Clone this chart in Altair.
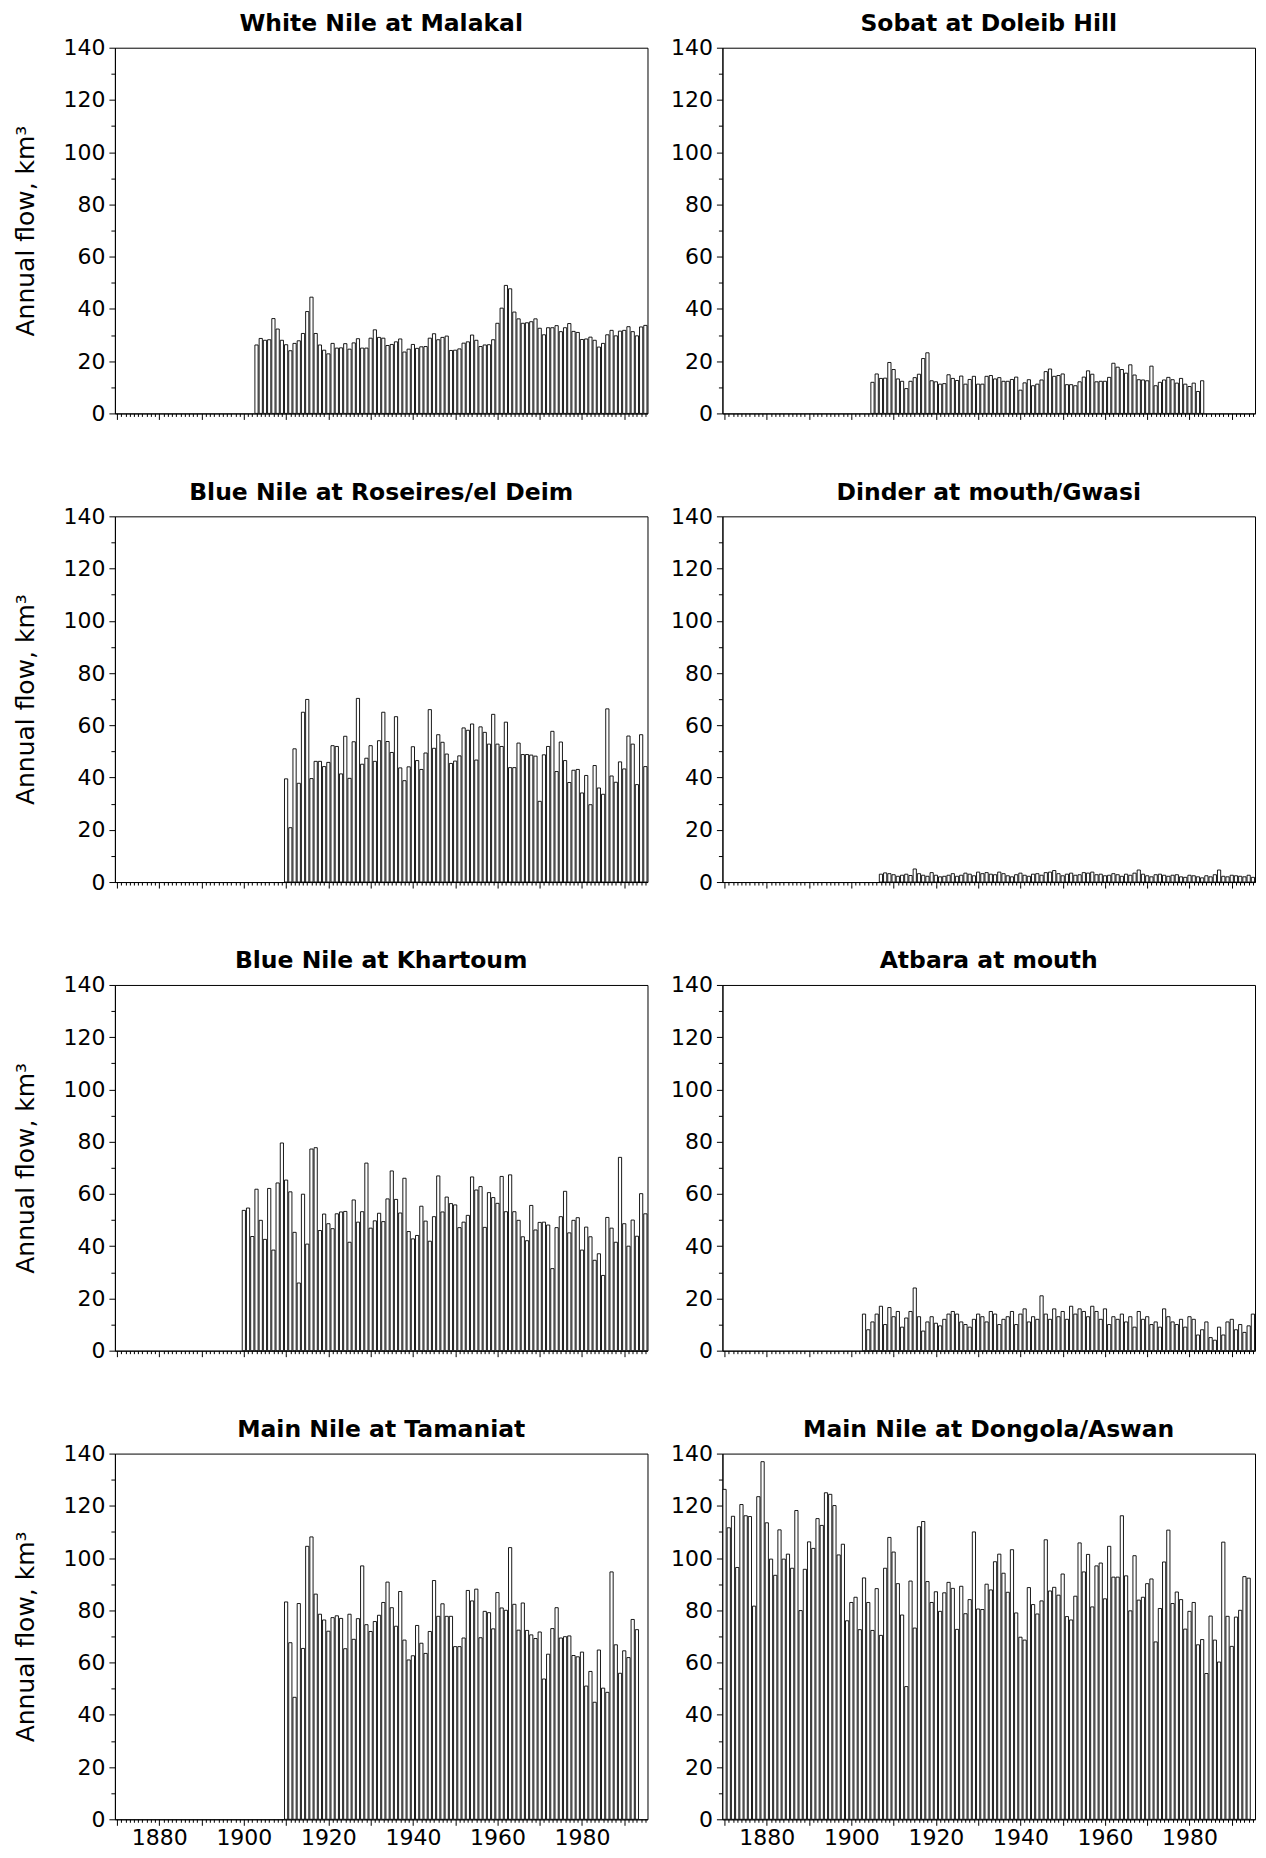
import altair as alt
import pandas as pd

FONT = "DejaVu Sans"

# ---------------- data (annual flow, km3) ----------------
malakal_start = 1903
malakal = [26.2,28.7,28.0,28.2,36.3,32.3,28.0,26.3,24.0,26.8,
           27.8,30.6,39.0,44.5,30.6,26.2,24.2,22.8,26.8,25.0,
           25.1,26.7,24.6,27.0,28.6,25.0,25.0,28.8,32.0,29.1,
           28.8,26.0,26.4,27.4,28.5,23.5,24.6,26.4,24.9,25.5,
           25.6,28.8,30.5,28.2,29.1,29.6,24.1,24.2,24.7,26.9,
           27.4,30.0,28.0,25.6,26.2,26.3,28.2,34.5,40.3,49.0,
           47.7,38.8,36.2,34.5,34.7,35.1,36.2,32.6,30.1,32.8,
           32.8,33.6,31.3,32.8,34.4,31.4,31.0,28.3,28.5,29.2,
           28.0,25.4,26.8,30.1,31.8,29.7,31.5,31.8,33.2,31.3,
           29.7,33.1,33.7]

sobat_start = 1905
sobat = [11.9,15.1,13.4,13.5,19.5,16.8,13.2,12.3,9.5,12.3,
         13.7,15.0,21.0,23.2,12.5,12.1,11.2,11.4,14.8,13.4,
         12.6,14.3,11.2,13.0,14.2,11.2,11.2,14.2,14.5,13.2,
         13.7,12.3,12.3,13.0,13.9,8.9,11.7,12.9,10.6,11.2,
         12.8,16.0,17.0,14.2,14.5,15.1,11.0,11.0,10.6,12.1,
         13.9,16.3,15.0,12.1,12.3,12.3,13.8,19.2,17.7,16.8,
         15.4,18.6,14.7,12.9,12.8,12.5,18.1,10.6,11.9,12.8,
         13.8,12.9,11.6,13.4,11.2,10.3,11.6,8.4,12.5]

roseires_start = 1910
roseires = [39.5,20.8,51.0,37.8,65.0,69.9,39.6,46.2,46.2,44.2,
            45.8,52.2,51.9,41.4,55.8,39.7,53.7,70.3,45.1,47.4,
            52.2,46.2,54.1,65.0,53.8,49.6,63.3,43.7,38.8,44.1,
            51.8,46.5,43.1,49.4,66.0,51.2,56.4,53.5,49.0,45.4,
            46.3,48.3,59.0,58.1,60.5,46.7,59.4,57.3,52.8,64.2,
            52.8,51.9,61.2,43.8,43.8,53.2,48.8,48.8,48.6,48.2,
            30.9,48.7,51.9,57.7,42.3,53.6,46.5,38.1,42.8,43.1,
            34.1,40.8,29.6,44.6,36.0,33.6,66.3,40.6,38.2,46.0,
            43.3,55.9,52.8,37.3,56.4,44.2]

dinder_start = 1907
dinder = [3.0,3.5,3.2,2.8,2.2,2.6,3.0,2.5,5.0,3.2,
          2.6,2.2,3.6,2.6,2.0,2.2,2.6,3.2,2.2,2.6,
          3.4,3.0,2.4,3.8,3.2,3.6,3.0,2.8,3.8,3.2,
          2.4,2.0,2.8,3.4,2.6,2.2,3.0,3.2,2.6,3.6,
          3.8,4.4,3.2,2.4,3.0,3.4,2.6,2.8,3.6,3.4,
          3.8,2.8,3.0,2.4,2.6,3.2,2.8,2.2,3.0,2.6,
          3.4,4.6,3.0,2.4,2.0,2.8,3.0,2.6,2.2,2.6,
          2.8,2.0,1.8,2.6,2.4,2.0,1.6,2.4,2.0,2.8,
          4.6,2.2,2.0,2.6,2.4,2.2,2.0,2.6,1.8]

khartoum_start = 1900
khartoum = [53.7,54.6,43.7,61.8,49.9,42.6,62.1,38.5,64.2,79.5,
            65.3,60.8,45.3,25.9,59.9,40.8,77.2,77.7,46.0,52.3,
            48.6,46.7,52.4,53.1,53.3,41.5,57.7,49.2,53.2,71.8,
            46.9,49.7,52.6,49.4,58.1,68.8,57.9,52.7,66.0,45.6,
            42.8,44.1,55.3,49.6,41.9,51.3,66.9,53.1,58.8,56.3,
            55.8,47.1,49.2,51.8,66.5,61.5,62.8,47.2,60.5,58.6,
            56.4,66.7,53.2,67.3,53.2,49.9,43.6,42.1,55.6,46.2,
            49.1,49.2,48.1,31.4,47.1,51.3,61.0,45.1,49.9,50.9,
            38.5,47.3,43.6,34.6,37.1,28.8,51.0,46.9,41.5,74.0,
            48.6,40.0,50.0,43.8,60.1,52.4]

atbara_start = 1903
atbara = [14.0,8.0,11.0,14.0,17.0,10.0,16.5,13.0,15.0,9.0,
          12.5,15.0,24.0,13.0,7.5,11.0,13.0,10.5,9.5,12.0,
          14.0,15.0,14.0,11.0,10.0,9.0,12.0,14.0,13.0,11.0,
          15.0,14.0,10.0,12.0,13.0,15.0,10.0,14.0,16.0,11.0,
          13.0,12.0,21.0,14.0,12.0,16.0,13.0,15.0,12.0,17.0,
          14.0,16.0,15.0,13.0,17.0,15.0,12.0,16.0,10.0,13.0,
          12.0,14.0,11.0,13.0,9.0,15.0,12.0,13.0,10.0,11.0,
          9.0,16.0,13.0,11.0,10.0,12.0,9.0,13.0,12.0,6.0,
          8.0,11.0,5.0,4.0,9.0,6.0,11.0,12.0,8.0,10.0,
          7.0,9.5,14.0]

tamaniat_start = 1910
tamaniat = [83.2,67.6,46.7,82.6,65.4,104.5,108.1,86.2,78.5,76.3,
            72.0,77.2,77.9,76.9,65.3,78.5,68.9,76.8,97.0,74.5,
            71.9,75.7,78.1,83.0,90.8,81.0,73.9,87.2,68.6,61.0,
            62.6,74.2,67.4,63.5,71.9,91.4,77.7,82.5,77.7,77.7,
            66.1,66.1,69.4,87.6,83.6,88.1,69.5,79.6,79.1,72.9,
            86.8,80.9,80.0,104.0,82.3,72.4,82.8,72.3,70.6,69.2,
            71.7,53.7,63.2,73.0,81.0,69.4,69.9,70.2,62.7,62.2,
            64.0,51.0,56.6,44.8,64.8,50.2,48.6,94.7,66.8,55.9,
            64.5,61.9,76.5,72.6]

dongola_start = 1870
dongola = [126.3,111.6,116.0,96.4,120.5,116.2,115.9,81.6,123.5,136.9,
           113.5,99.6,93.4,110.8,99.6,101.5,96.1,118.2,79.9,95.7,
           106.2,103.7,115.1,112.5,125.0,124.4,120.1,101.2,105.3,76.0,
           83.0,85.0,72.6,92.4,83.0,72.3,88.3,70.4,96.1,107.9,
           102.3,90.2,78.2,50.8,91.2,73.2,112.0,114.0,91.0,83.0,
           87.1,79.6,86.7,90.7,88.4,72.7,89.2,78.7,84.1,110.0,
           80.5,80.3,90.0,87.8,98.6,101.5,94.2,86.9,103.2,79.0,
           69.7,68.6,88.7,82.2,78.6,83.6,107.0,87.4,88.8,85.8,
           93.9,77.6,76.3,85.4,105.8,94.7,101.4,81.3,97.0,98.1,
           84.4,104.5,92.7,92.7,116.2,93.2,79.8,100.9,83.9,85.0,
           90.2,92.0,67.9,80.7,98.5,110.7,82.6,87.0,84.1,72.8,
           79.6,83.0,66.8,68.8,55.8,77.8,68.6,60.2,106.1,77.7,
           66.2,77.4,80.0,92.9,92.3]

x_tick_years = list(range(1870, 1996))
y_tick_values = list(range(0, 141, 10))

# ---------------- chart ----------------
W, H = 533, 366
X_DOMAIN = [1869.5, 1995.5]


def panel(title, start, vals, xlabels, ytitle):
    df = pd.DataFrame({"year": list(range(start, start + len(vals))), "flow": vals})
    xaxis = alt.Axis(
        values=x_tick_years,
        labels=xlabels,
        format="d",
        labelExpr="datum.value % 20 == 0 ? datum.label : ''",
        labelOverlap=False,
        labelFlush=False,
        labelFont=FONT,
        labelFontSize=22,
        labelColor="black",
        labelPadding=2,
        tickSize={"condition": {"test": "datum.value % 10 == 0", "value": 6}, "value": 3},
        tickColor="black",
        tickWidth=1,
        domainColor="black",
        grid=False,
        title=None,
    )
    yaxis = alt.Axis(
        values=y_tick_values,
        labelExpr="datum.value % 20 == 0 ? datum.label : ''",
        labelOverlap=False,
        labelFont=FONT,
        labelFontSize=22,
        labelColor="black",
        labelPadding=4,
        tickSize={"condition": {"test": "datum.value % 20 == 0", "value": 6}, "value": 4},
        tickColor="black",
        domainColor="black",
        grid=False,
        title="Annual flow, km³" if ytitle else None,
        titleFont=FONT,
        titleFontSize=25,
        titleFontWeight="normal",
        titleColor="black",
        titlePadding=24,
    )
    bars = (
        alt.Chart(df)
        .transform_calculate(x0="datum.year - 0.38", x1="datum.year + 0.38", base="0")
        .mark_bar(fill="white", stroke="black", strokeWidth=0.9)
        .encode(
            x=alt.X("x0:Q", scale=alt.Scale(domain=X_DOMAIN, nice=False, zero=False), axis=xaxis),
            x2="x1:Q",
            y=alt.Y("flow:Q", scale=alt.Scale(domain=[0, 140], nice=False), axis=yaxis),
            y2="base:Q",
        )
        .properties(
            width=W,
            height=H,
            title=alt.TitleParams(title, font=FONT, fontSize=23.5, fontWeight="bold",
                                  color="black", offset=1, anchor="middle"),
        )
    )
    return bars


rows = [
    (("White Nile at Malakal", malakal_start, malakal),
     ("Sobat at Doleib Hill", sobat_start, sobat)),
    (("Blue Nile at Roseires/el Deim", roseires_start, roseires),
     ("Dinder at mouth/Gwasi", dinder_start, dinder)),
    (("Blue Nile at Khartoum", khartoum_start, khartoum),
     ("Atbara at mouth", atbara_start, atbara)),
    (("Main Nile at Tamaniat", tamaniat_start, tamaniat),
     ("Main Nile at Dongola/Aswan", dongola_start, dongola)),
]

row_charts = []
for i, (l, r) in enumerate(rows):
    last = i == len(rows) - 1
    left = panel(l[0], l[1], l[2], last, True)
    right = panel(r[0], r[1], r[2], last, False)
    row_charts.append(alt.hconcat(left, right, spacing=21))

chart = (
    alt.vconcat(*row_charts, spacing=55)
    .properties(padding={"left": 5, "top": 3, "right": 2, "bottom": 0})
    .configure(background="white")
    .configure_view(stroke="black", strokeWidth=1)
)

chart.save("out.html", embed_options={"renderer": "svg", "actions": False})
